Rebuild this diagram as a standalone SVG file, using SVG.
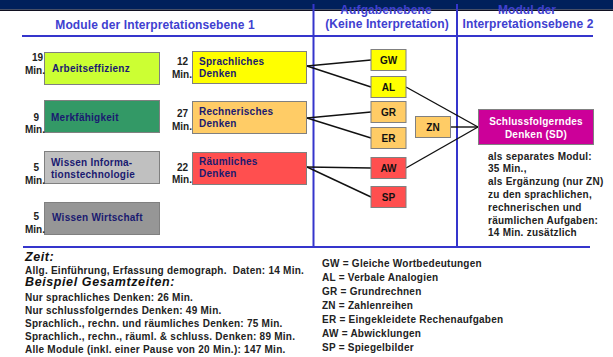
<svg xmlns="http://www.w3.org/2000/svg" width="613" height="357" viewBox="0 0 613 357">
<style>
text{font-family:"Liberation Sans",Arial,sans-serif;font-weight:bold;font-size:10px;letter-spacing:0.25px}
.hd{font-size:12px;fill:#4040D0;text-anchor:middle;letter-spacing:0.1px}
.rule{stroke:#3535CC;stroke-width:2;fill:none}
.box{stroke:#808080;stroke-width:1}
.bt{fill:#1a1a70}
.num{fill:#222;text-anchor:end;letter-spacing:0}
.tk{fill:#111;text-anchor:middle;letter-spacing:0}
.conn line{stroke:#111;stroke-width:1.4}
.blk{fill:#222}
.it{font-size:12.5px;font-style:italic;fill:#111;letter-spacing:0.6px}
</style>
<rect x="0" y="0" width="613" height="357" fill="#fff"/>
<rect x="0" y="0" width="613" height="9.5" fill="#00205B"/>
<rect x="0" y="9.5" width="613" height="1.5" fill="#101020"/>
<g id="rules">
<line class="rule" x1="22" y1="36" x2="593" y2="36"/>
<line class="rule" x1="23" y1="247" x2="590" y2="247"/>
<line class="rule" x1="313.5" y1="4" x2="313.5" y2="247"/>
<line class="rule" x1="457" y1="4" x2="457" y2="247"/>
</g>
<g id="headers">
<text class="hd" x="155" y="29">Module der Interpretationsebene 1</text>
<text class="hd" x="386" y="14">Aufgabenebene</text>
<text class="hd" x="387" y="28">(Keine Interpretation)</text>
<text class="hd" x="527" y="14">Modul der</text>
<text class="hd" x="528" y="28">Interpretationsebene 2</text>
</g>
<g class="conn" id="connectors">
<line x1="307" y1="66" x2="371" y2="60"/>
<line x1="307" y1="66" x2="371" y2="87"/>
<line x1="307" y1="118" x2="371" y2="112"/>
<line x1="307" y1="118" x2="371" y2="138"/>
<line x1="307" y1="167" x2="371" y2="168"/>
<line x1="307" y1="167" x2="371" y2="197"/>
<line x1="406" y1="87" x2="478" y2="127"/>
<line x1="451" y1="127" x2="478" y2="127"/>
<line x1="406" y1="168" x2="478" y2="127"/>
</g>
<g id="n-arbeit">
<rect class="box" x="44.5" y="52.5" width="115" height="32" fill="#CCFF33"/>
<text class="bt" x="52" y="72">Arbeitseffizienz</text>
<text class="num" x="43" y="61">19</text><text class="num" x="45" y="74">Min.</text>
</g>
<g id="n-merk">
<rect class="box" x="44.5" y="100.5" width="115" height="32" fill="#339966"/>
<text class="bt" x="51" y="121">Merkfähigkeit</text>
<text class="num" x="39" y="121">9</text><text class="num" x="45" y="133">Min.</text>
</g>
<g id="n-wit">
<rect class="box" x="44.5" y="151.5" width="115" height="32" fill="#C0C0C0"/>
<text class="bt" x="51" y="166">Wissen Informa-</text>
<text class="bt" x="51" y="178">tionstechnologie</text>
<text class="num" x="39" y="171">5</text><text class="num" x="45" y="184">Min.</text>
</g>
<g id="n-wiw">
<rect class="box" x="44.5" y="202.5" width="115" height="32" fill="#969696"/>
<text class="bt" x="52" y="221">Wissen Wirtschaft</text>
<text class="num" x="39" y="220">5</text><text class="num" x="45" y="233">Min.</text>
</g>
<g id="n-sprach">
<rect class="box" x="192.5" y="51.5" width="114" height="32" fill="#FFFF00"/>
<text class="bt" x="199" y="65">Sprachliches</text>
<text class="bt" x="199" y="77">Denken</text>
<text class="num" x="188" y="65">12</text><text class="num" x="192" y="78">Min.</text>
</g>
<g id="n-rechn">
<rect class="box" x="192.5" y="101.5" width="114" height="32" fill="#FFCC66"/>
<text class="bt" x="199" y="115">Rechnerisches</text>
<text class="bt" x="199" y="127">Denken</text>
<text class="num" x="188" y="117">27</text><text class="num" x="192" y="130">Min.</text>
</g>
<g id="n-raum">
<rect class="box" x="192.5" y="152.5" width="114" height="32" fill="#FF4F4F"/>
<text class="bt" x="199" y="165">Räumliches</text>
<text class="bt" x="199" y="177">Denken</text>
<text class="num" x="188" y="171">22</text><text class="num" x="192" y="183">Min.</text>
</g>
<g id="t-gw"><rect class="box" x="371" y="49.5" width="35" height="21" fill="#FFFF00"/><text class="tk" x="388.5" y="64">GW</text></g>
<g id="t-al"><rect class="box" x="371" y="76.5" width="35" height="21" fill="#FFFF00"/><text class="tk" x="388.5" y="91">AL</text></g>
<g id="t-gr"><rect class="box" x="371" y="101.5" width="35" height="21" fill="#FFCC66"/><text class="tk" x="388.5" y="116">GR</text></g>
<g id="t-er"><rect class="box" x="371" y="127.5" width="35" height="21" fill="#FFCC66"/><text class="tk" x="388.5" y="142">ER</text></g>
<g id="t-aw"><rect class="box" x="371" y="157.5" width="35" height="21" fill="#FF4F4F"/><text class="tk" x="388.5" y="172">AW</text></g>
<g id="t-sp"><rect class="box" x="371" y="186.5" width="35" height="21" fill="#FF4F4F"/><text class="tk" x="388.5" y="201">SP</text></g>
<g id="t-zn"><rect class="box" x="415.5" y="116.5" width="35" height="21" fill="#FFCC66"/><text class="tk" x="433" y="131">ZN</text></g>
<g id="n-sd">
<rect class="box" x="478.5" y="109.5" width="115" height="35" fill="#CC0099"/>
<text x="536" y="125" fill="#fff" text-anchor="middle">Schlussfolgerndes</text>
<text x="536" y="138" fill="#fff" text-anchor="middle">Denken (SD)</text>
</g>
<g id="sd-note" class="blk">
<text x="488" y="160">als separates Modul:</text>
<text x="488" y="172">35 Min.,</text>
<text x="488" y="185">als Ergänzung (nur ZN)</text>
<text x="488" y="198">zu den sprachlichen,</text>
<text x="488" y="211">rechnerischen und</text>
<text x="488" y="224">räumlichen Aufgaben:</text>
<text x="488" y="236">14 Min. zusätzlich</text>
</g>
<g id="times" class="blk">
<text class="it" x="25" y="261">Zeit:</text>
<text x="25" y="274" style="white-space:pre">Allg. Einführung, Erfassung demograph.  Daten: 14 Min.</text>
<text class="it" x="25" y="286">Beispiel Gesamtzeiten:</text>
<text x="25" y="301">Nur sprachliches Denken: 26 Min.</text>
<text x="25" y="314">Nur schlussfolgerndes Denken: 49 Min.</text>
<text x="25" y="327">Sprachlich., rechn. und räumliches Denken: 75 Min.</text>
<text x="25" y="340">Sprachlich., rechn., räuml. &amp; schluss. Denken: 89 Min.</text>
<text x="25" y="353">Alle Module (inkl. einer Pause von 20 Min.): 147 Min.</text>
</g>
<g id="legend" class="blk">
<text x="322" y="267">GW = Gleiche Wortbedeutungen</text>
<text x="322" y="281">AL = Verbale Analogien</text>
<text x="322" y="295">GR = Grundrechnen</text>
<text x="322" y="309">ZN = Zahlenreihen</text>
<text x="322" y="323">ER = Eingekleidete Rechenaufgaben</text>
<text x="322" y="337">AW = Abwicklungen</text>
<text x="322" y="351">SP = Spiegelbilder</text>
</g>
</svg>
